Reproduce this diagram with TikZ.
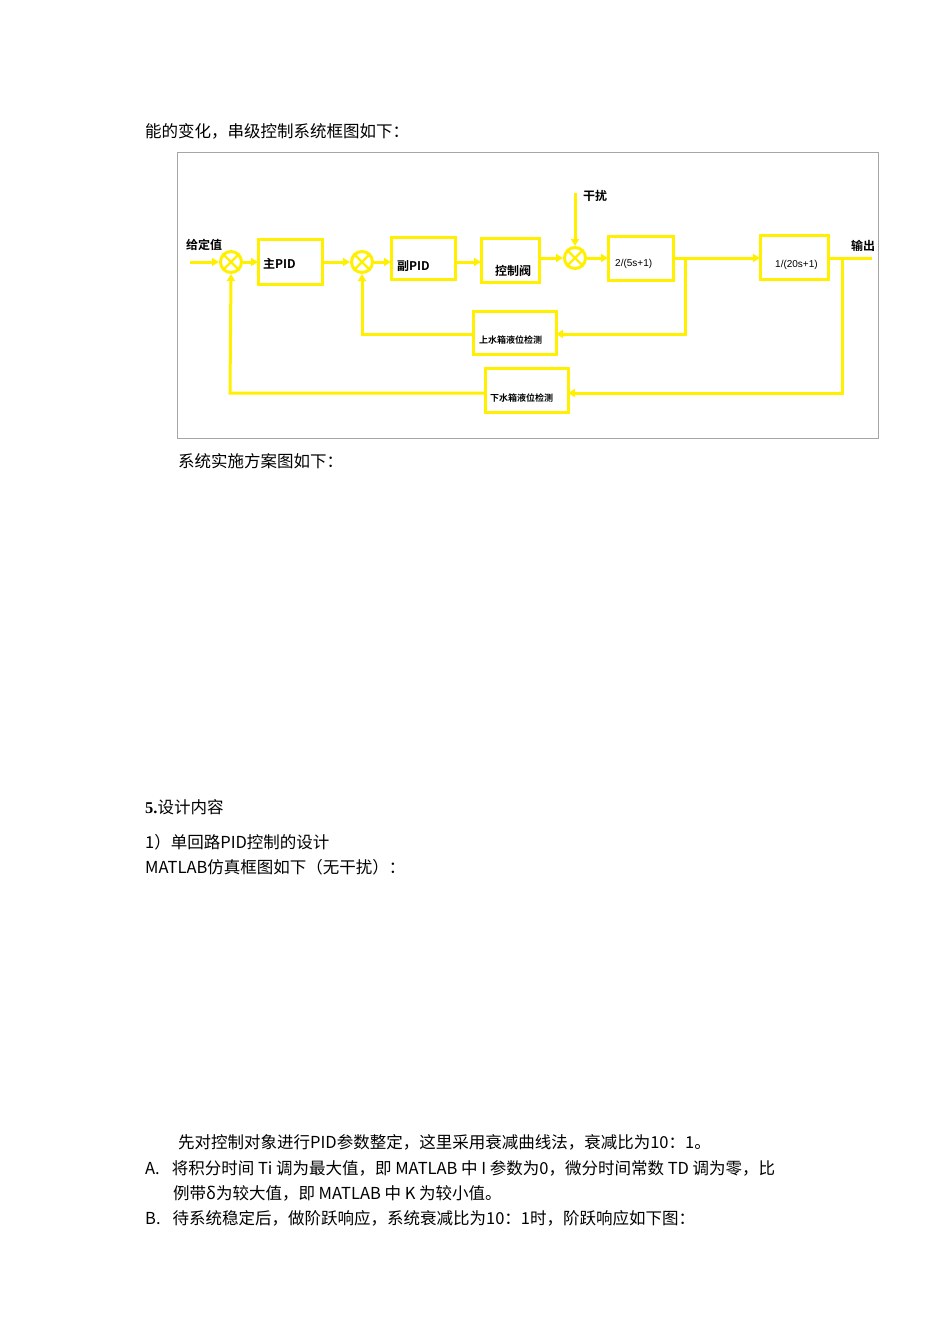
\documentclass[tikz,border=0pt]{standalone}
\usepackage{fontspec}
\setmainfont{Liberation Serif}
\newfontfamily\cjk{Noto Sans CJK SC}
\newfontfamily\cjkb{Noto Sans CJK SC Bold}
\usetikzlibrary{arrows.meta}
\definecolor{yel}{RGB}{255,240,0}
\begin{document}
\begin{tikzpicture}[x=1pt,y=-1pt,
  blk/.style={draw=yel,line width=3pt,fill=white},
  sumj/.style={draw=yel,line width=3pt,circle,minimum size=21pt,inner sep=0pt,fill=white},
  sig/.style={draw=yel,line width=3pt,-{Triangle[length=7pt,width=8pt]}},
  ln/.style={draw=yel,line width=3pt},
  lab/.style={font=\cjkb\fontsize{12}{14}\selectfont,inner sep=0pt,anchor=west},
  body/.style={font=\cjk\fontsize{16.5}{19}\selectfont,inner sep=0pt,anchor=west}]
\useasboundingbox (0,0) rectangle (950,1344);
\node[body] (t1) at (145,131) {能的变化，串级控制系统框图如下：};
\draw[gray!70,line width=0.8pt] (177,152) rectangle (878,438);
% blocks
\node[sumj] (s1) at (231,262) {};
\draw[yel,line width=2.4pt] (s1.north east)--(s1.south west) (s1.north west)--(s1.south east);
\node[sumj] (s2) at (362,262) {};
\draw[yel,line width=2.4pt] (s2.north east)--(s2.south west) (s2.north west)--(s2.south east);
\node[sumj] (s3) at (575,258) {};
\draw[yel,line width=2.4pt] (s3.north east)--(s3.south west) (s3.north west)--(s3.south east);
\draw[blk] (258,239) rectangle (322,284); \node[lab] (b1) at (263,264) {主PID};
\draw[blk] (391,237) rectangle (455,279); \node[lab] (b2) at (397,266) {副PID};
\draw[blk] (481,238) rectangle (539,282); \node[lab] (b3) at (495,271) {控制阀};
\draw[blk] (608,236) rectangle (673,280); \node[lab,font=\fontspec{Liberation Sans}\fontsize{10}{12}\selectfont] (b4) at (615,264) {2/(5s+1)};
\draw[blk] (760,235) rectangle (828,279); \node[lab,font=\fontspec{Liberation Sans}\fontsize{10}{12}\selectfont] (b5) at (775,265) {1/(20s+1)};
\draw[blk] (473,311) rectangle (556,354); \node[lab,font=\cjkb\fontsize{9}{11}\selectfont] (f1) at (479,340) {上水箱液位检测};
\draw[blk] (485,368) rectangle (568,412); \node[lab,font=\cjkb\fontsize{9}{11}\selectfont] (f2) at (490,398) {下水箱液位检测};
\coordinate (in) at (190,262);
\coordinate (d) at (575,193);
\coordinate (out) at (872,258);
\coordinate (p1) at (685,258);
\coordinate (p2) at (842,258);
\node[lab] at (186,245) {给定值};
\node[lab] at (583,196) {干扰};
\node[lab] at (851,246) {输出};
% connectors
\draw[sig] (in) -- (s1.west);
\draw[sig] (s1.east) -- (258,262);
\draw[sig] (322,262) -- (s2.west);
\draw[sig] (s2.east) -- (391,262);
\draw[sig] (455,262) -- (481,262);
\draw[sig] (539,258) -- (s3.west);
\draw[sig] (d) -- (s3.north);
\draw[sig] (s3.east) -- (608,258);
\draw[sig] (673,258) -- (760,258);
\draw[ln] (828,258) -- (out);
\draw[sig] (p1) -- (685,334) -- (556,334);
\draw[sig] (473,334) -- (362,334) -- (s2.south);
\draw[sig] (p2) -- (842,393) -- (568,393);
\draw[sig] (485,393) -- (230,393) -- (s1.south);
% text
\node[body] (t2) at (178,461) {系统实施方案图如下：};
\node[body] (t3) at (145,807) {\textbf{\fontspec{Liberation Serif}5.}设计内容};
\node[body] (t4) at (145,842) {1）单回路PID控制的设计};
\node[body] (t5) at (145,867) {MATLAB仿真框图如下（无干扰）：};
\node[body] (t6) at (178,1142) {先对控制对象进行PID参数整定，这里采用衰减曲线法，衰减比为10：1。};
\node[body] (t7) at (145,1168) {A.\hspace{12pt}将积分时间 Ti 调为最大值，即 MATLAB 中 I 参数为0，微分时间常数 TD 调为零，比};
\node[body] (t8) at (173,1193) {例带δ为较大值，即 MATLAB 中 K 为较小值。};
\node[body] (t9) at (145,1218) {B.\hspace{12pt}待系统稳定后，做阶跃响应，系统衰减比为10：1时，阶跃响应如下图：};
\end{tikzpicture}
\end{document}
